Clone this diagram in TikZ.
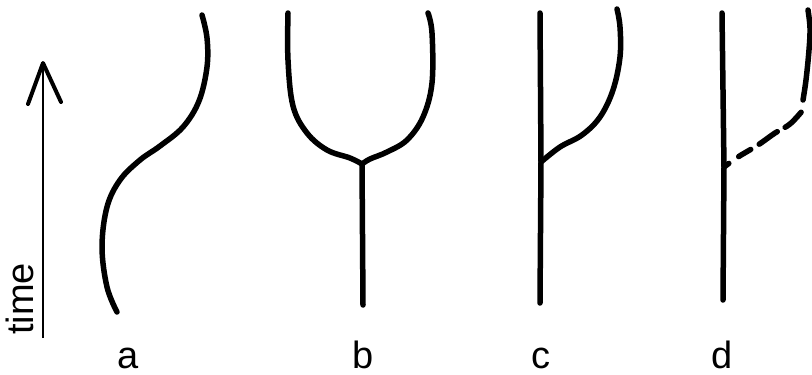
\documentclass[tikz,border=0pt]{standalone}
\usepackage{fontspec}
\setmainfont{Liberation Sans}
\begin{document}
\begin{tikzpicture}[x=1pt,y=-1pt,
  wl/.style={line width=5.5pt,line cap=round,line join=round},
  lbl/.style={font=\fontsize{38}{42}\selectfont,anchor=base,inner sep=0pt}]
\useasboundingbox (0,0) rectangle (812,375);
% time axis
\coordinate (ab) at (43,338);
\coordinate (at) at (43,63);
\draw[line width=2.8pt] (ab) -- (at);
\draw[line width=4pt,line cap=round,line join=round] (28,104) -- (at) -- (61,102);
\node[font=\fontsize{38}{42}\selectfont,rotate=90,anchor=base west,inner sep=0pt] (time) at (33,335) {time};
% a
\draw[wl] plot[smooth,tension=0.6] coordinates {(117,312) (107,287) (102,247) (107,207) (120,180) (140,160) (160,146) (183,127) (199,101) (207,67) (207,38) (202,15)};
% b
\coordinate (bj) at (362,164);
\draw[wl] (bj) -- (363,305);
\draw[wl] plot[smooth,tension=0.6] coordinates {(288,13) (288,60) (293,106) (307,133) (327,150) (350,158) (362,164)};
\draw[wl] plot[smooth,tension=0.6] coordinates {(428,13) (432,33) (432,83) (423,117) (407,140) (387,152) (370,159) (362,164)};
% c
\coordinate (cj) at (541,162);
\draw[wl] (540,13) -- (cj) -- (540,303);
\draw[wl] plot[smooth,tension=0.6] coordinates {(cj) (560,147) (582,135) (600,117) (613,90) (620,57) (620,27) (617,9)};
% d
\coordinate (dj) at (724,167);
\draw[wl] (722,13) -- (dj) -- (723,300);
\draw[wl,dash pattern=on 6pt off 12pt on 14pt off 10pt on 22pt off 9pt on 22pt off 9pt] plot[smooth,tension=0.6] coordinates {(dj) (738,157) (758,145) (775,133) (790,124) (803,110)};
\draw[wl] plot[smooth,tension=0.6] coordinates {(803,100) (806,80) (809,50) (810,28) (808,10)};
% labels
\node[lbl] (la) at (128,368) {a};
\node[lbl] (lb) at (363,368) {b};
\node[lbl] (lc) at (541,368) {c};
\node[lbl] (ld) at (722,368) {d};
\end{tikzpicture}
\end{document}
